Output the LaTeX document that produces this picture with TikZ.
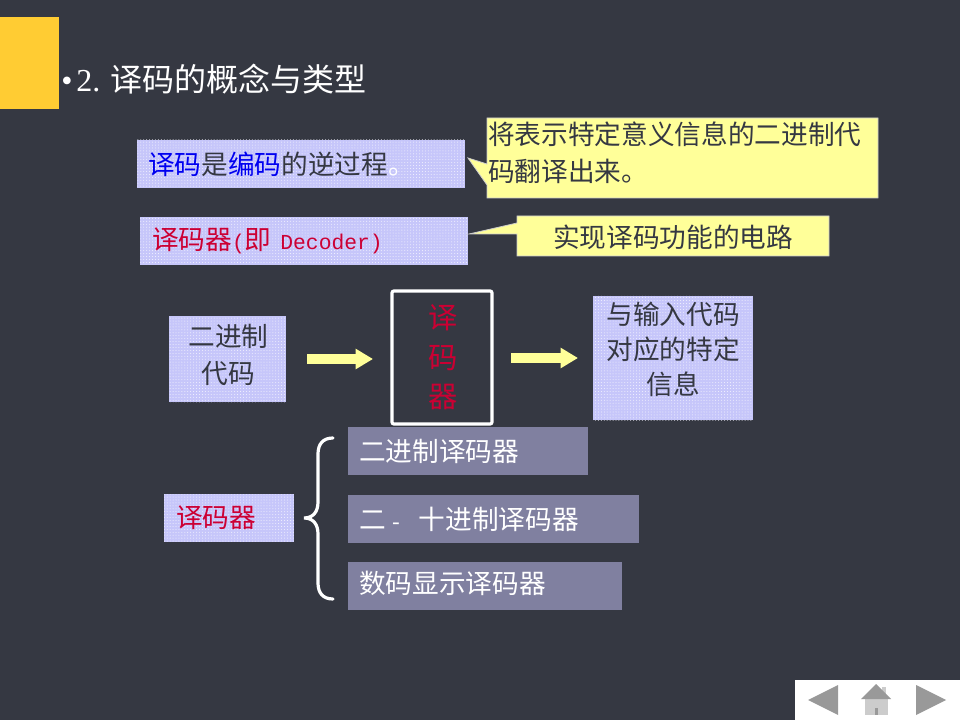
\documentclass[tikz,border=0pt]{standalone}
\usepackage{fontspec}
\setmainfont{Noto Sans CJK SC}
\newfontfamily\latinserif{Liberation Serif}
\newfontfamily\latinmono{Liberation Mono}
\usetikzlibrary{patterns.meta,arrows.meta}
\definecolor{slidebg}{RGB}{53,56,66}
\definecolor{tabgold}{RGB}{255,204,51}
\definecolor{paleyellow}{RGB}{255,255,153}
\definecolor{lavender}{RGB}{198,198,250}
\definecolor{redtext}{RGB}{204,0,51}
\definecolor{bluetext}{RGB}{0,0,240}
\definecolor{slategrey}{RGB}{128,128,160}
\definecolor{navgrey}{RGB}{153,153,153}
\definecolor{navlight}{RGB}{204,204,204}
\newcommand{\zh}{\fontsize{20}{27.75}\selectfont}
\newcommand{\smallmono}{\latinmono\fontsize{16}{20}\selectfont}
\tikzset{
  x=.75pt,y=-.75pt,
  sized/.style n args={2}{minimum width=#1*.75pt,minimum height=#2*.75pt,anchor=north west,inner sep=0pt,outer sep=0pt},
  patternbox/.style={postaction={pattern={Dots[distance=2.2pt,radius=.38pt]},pattern color=white!80!lavender}},
  lilac/.style={fill=lavender,patternbox},
  boxtext/.style={text=slidebg,font=\zh,align=center,inner sep=0pt},
  lilacleft/.style n args={2}{lilac,sized={#1}{48},inner xsep=#2*.75pt,text width=(#1-2*#2)*.75pt,align=left,font=\zh,text=slidebg},
  greybox/.style={fill=slategrey,text=white,font=\zh,align=left,sized={#1}{48},inner xsep=8.25pt,text width=(#1-22)*.75pt},
  callout/.style={fill=paleyellow,draw=navlight,line width=.6pt},
  calltext/.style={text=slidebg,font=\zh,align=left,inner sep=0pt},
  blockarrow/.style={draw=paleyellow,line width=7.5pt,-{Triangle[length=13pt,width=14.5pt]}},
  brace/.style={draw=white,line width=2.4pt,line cap=round},
  navfill/.style={fill=navgrey},
}
\begin{document}
\begin{tikzpicture}
\useasboundingbox (0,0) rectangle (960,720);
\fill[slidebg] (0,0) rectangle (960,720);
\fill[tabgold] (0,17) rectangle (59,109);

% title
\node[anchor=base west,inner sep=0pt,text=white,font=\fontsize{24}{28}\selectfont] (title) at (61,92)
  {{\latinserif\textbullet\hspace{3pt}2.\hspace{7.5pt}}译码的概念与类型};

% definition boxes
\node[lilacleft={328}{11}] (defbox) at (137,140) {\raisebox{-1.5pt}{\textcolor{bluetext}{译码}是\textcolor{bluetext}{编码}的逆过程\textcolor{white}{。}}};
\node[lilacleft={328}{12},text=redtext] (devbox) at (140,217) {\raisebox{-.75pt}{译码器{\smallmono(}即{\smallmono~Decoder)}}};

% callouts
\fill[callout] (487,118) -- (878,118) -- (878,198) -- (487,198) -- (487,185) -- (468,158) -- (487,164) -- cycle;
\node[calltext,anchor=north west,text width=385*.75pt] (calla) at (488,122) {将表示特定意义信息的二进制代\\码翻译出来。};
\fill[callout] (517,216) -- (829,216) -- (829,256) -- (517,256) -- (517,234) -- (469,234) -- (517,223) -- cycle;
\node[calltext] (callb) at (673,237) {实现译码功能的电路};

% flow
\node[lilac,sized={117}{86}] (binary) at (169,316) {};
\node[boxtext] (binarytext) at ([xshift=.75pt,yshift=3pt]binary.center) {二进制\\代码};
\node[sized={100}{133},draw=white,line width=2.4pt,rounded corners=1.5pt] (decoder) at (392,291) {};
\node[text=redtext,font=\fontsize{22}{29.5}\selectfont,align=center,inner sep=0pt] (decodertext) at ([xshift=.5pt]decoder.center) {译\\码\\器};
\node[lilac,sized={160}{124}] (output) at (593,296) {};
\node[boxtext,font=\fontsize{20}{26}\selectfont] (outputtext) at ([yshift=6.4pt]output.center) {与输入代码\\对应的特定\\信息};
\draw[blockarrow,shorten <=15.75pt,shorten >=14.25pt] (binary.east) -- (binary.east -| decoder.west);
\draw[blockarrow,shorten <=14.25pt,shorten >=11.25pt] (decoder.east |- output.west) -- (output.west);

% classification
\node[lilacleft={130}{12},text=redtext] (kind) at (164,494) {\raisebox{-.75pt}{译码器}};
\node[greybox=240] (kinda) at (348,427) {\raisebox{-.75pt}{二进制译码器}};
\node[greybox=291] (kindb) at (348,495) {\raisebox{-.75pt}{二\hspace{3pt}{\smallmono-~}\hspace{5.5pt}十进制译码器}};
\node[greybox=274] (kindc) at (348,562) {\raisebox{5pt}{数码显示译码器}};
\draw[brace] (333,438) .. controls (323,438) and (318,444) .. (318,454) -- (318,502)
  .. controls (318,512) and (313,518) .. (304,518)
  .. controls (313,518) and (318,524) .. (318,534) -- (318,583)
  .. controls (318,593) and (323,599) .. (333,599);

% navigation
\fill[white] (795,680) rectangle (960,720);
\fill[navfill] (808,700) -- (838,685) -- (838,715) -- cycle;
\fill[navlight] (882,687) rectangle (886,696);
\fill[navlight] (865,699) rectangle (888,715);
\fill[navfill] (861,699) -- (876,684) -- (891,699) -- cycle;
\fill[navfill] (875,708) rectangle (878,715);
\fill[navfill] (916,685) -- (946,700) -- (916,715) -- cycle;
\end{tikzpicture}
\end{document}
